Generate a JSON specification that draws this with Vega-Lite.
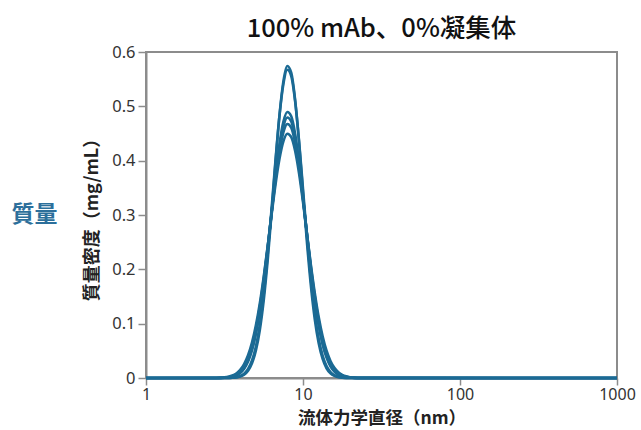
{
  "$schema": "https://vega.github.io/schema/vega-lite/v6.json",
  "width": 471,
  "height": 326,
  "autosize": {"type": "none"},
  "padding": {"left": 146, "top": 52, "right": 24, "bottom": 52},
  "title": {"text": "100% mAb、0%凝集体", "font": "Noto Sans CJK JP", "fontSize": 25.5, "fontWeight": 500, "color": "#111111", "anchor": "middle", "offset": 2},
  "config": {
    "view": {"stroke": "#8c8c8c", "strokeWidth": 2},
    "axis": {"grid": false, "domainColor": "#8c8c8c", "domainWidth": 2, "tickColor": "#8c8c8c", "tickWidth": 1.5, "tickSize": 8, "labelFont": "Noto Sans", "labelFontSize": 16.5, "labelColor": "#333333", "titleFont": "Noto Sans CJK JP", "titleFontSize": 18, "titleFontWeight": "bold", "titleColor": "#222222"}
  },
  "data": {"values": [
    {"d":1,"m":0,"r":"a"},{"d":2.818,"m":0,"r":"a"},{"d":2.985,"m":0,"r":"a"},{"d":3.162,"m":0.00004,"r":"a"},{"d":3.350,"m":0.00014,"r":"a"},{"d":3.548,"m":0.0004,"r":"a"},{"d":3.758,"m":0.0011,"r":"a"},{"d":3.981,"m":0.0027,"r":"a"},{"d":4.217,"m":0.0062,"r":"a"},{"d":4.467,"m":0.0134,"r":"a"},{"d":4.732,"m":0.0270,"r":"a"},{"d":5.012,"m":0.0506,"r":"a"},{"d":5.309,"m":0.0884,"r":"a"},{"d":5.623,"m":0.1434,"r":"a"},{"d":5.957,"m":0.2164,"r":"a"},{"d":6.310,"m":0.3040,"r":"a"},{"d":6.683,"m":0.3972,"r":"a"},{"d":7.079,"m":0.4827,"r":"a"},{"d":7.499,"m":0.5459,"r":"a"},{"d":7.943,"m":0.5742,"r":"a"},{"d":8.414,"m":0.5619,"r":"a"},{"d":8.913,"m":0.5115,"r":"a"},{"d":9.441,"m":0.4332,"r":"a"},{"d":10,"m":0.3413,"r":"a"},{"d":10.593,"m":0.2501,"r":"a"},{"d":11.220,"m":0.1705,"r":"a"},{"d":11.885,"m":0.1082,"r":"a"},{"d":12.589,"m":0.0638,"r":"a"},{"d":13.335,"m":0.0350,"r":"a"},{"d":14.125,"m":0.0179,"r":"a"},{"d":14.962,"m":0.0085,"r":"a"},{"d":15.849,"m":0.0038,"r":"a"},{"d":16.788,"m":0.0015,"r":"a"},{"d":17.783,"m":0.0006,"r":"a"},{"d":18.836,"m":0.0002,"r":"a"},{"d":19.953,"m":0.0001,"r":"a"},{"d":21.135,"m":0,"r":"a"},{"d":22.387,"m":0,"r":"a"},{"d":1000,"m":0,"r":"a"},
    {"d":1,"m":0,"r":"b"},{"d":2.818,"m":0,"r":"b"},{"d":2.985,"m":0,"r":"b"},{"d":3.162,"m":0.0001,"r":"b"},{"d":3.350,"m":0.0002,"r":"b"},{"d":3.548,"m":0.0006,"r":"b"},{"d":3.758,"m":0.0015,"r":"b"},{"d":3.981,"m":0.0037,"r":"b"},{"d":4.217,"m":0.0081,"r":"b"},{"d":4.467,"m":0.0167,"r":"b"},{"d":4.732,"m":0.0322,"r":"b"},{"d":5.012,"m":0.0581,"r":"b"},{"d":5.309,"m":0.0979,"r":"b"},{"d":5.623,"m":0.1543,"r":"b"},{"d":5.957,"m":0.2271,"r":"b"},{"d":6.310,"m":0.3123,"r":"b"},{"d":6.683,"m":0.4014,"r":"b"},{"d":7.079,"m":0.4820,"r":"b"},{"d":7.499,"m":0.5409,"r":"b"},{"d":7.943,"m":0.5672,"r":"b"},{"d":8.414,"m":0.5558,"r":"b"},{"d":8.913,"m":0.5089,"r":"b"},{"d":9.441,"m":0.4354,"r":"b"},{"d":10,"m":0.3481,"r":"b"},{"d":10.593,"m":0.2601,"r":"b"},{"d":11.220,"m":0.1815,"r":"b"},{"d":11.885,"m":0.1184,"r":"b"},{"d":12.589,"m":0.0722,"r":"b"},{"d":13.335,"m":0.0411,"r":"b"},{"d":14.125,"m":0.0219,"r":"b"},{"d":14.962,"m":0.0109,"r":"b"},{"d":15.849,"m":0.0051,"r":"b"},{"d":16.788,"m":0.0022,"r":"b"},{"d":17.783,"m":0.0009,"r":"b"},{"d":18.836,"m":0.0003,"r":"b"},{"d":19.953,"m":0.0001,"r":"b"},{"d":21.135,"m":0,"r":"b"},{"d":22.387,"m":0,"r":"b"},{"d":1000,"m":0,"r":"b"},
    {"d":1,"m":0,"r":"c"},{"d":2.818,"m":0.0001,"r":"c"},{"d":2.985,"m":0.0002,"r":"c"},{"d":3.162,"m":0.0004,"r":"c"},{"d":3.350,"m":0.0010,"r":"c"},{"d":3.548,"m":0.0022,"r":"c"},{"d":3.758,"m":0.0046,"r":"c"},{"d":3.981,"m":0.0091,"r":"c"},{"d":4.217,"m":0.0170,"r":"c"},{"d":4.467,"m":0.0302,"r":"c"},{"d":4.732,"m":0.0507,"r":"c"},{"d":5.012,"m":0.0809,"r":"c"},{"d":5.309,"m":0.1222,"r":"c"},{"d":5.623,"m":0.1750,"r":"c"},{"d":5.957,"m":0.2374,"r":"c"},{"d":6.310,"m":0.3055,"r":"c"},{"d":6.683,"m":0.3724,"r":"c"},{"d":7.079,"m":0.4304,"r":"c"},{"d":7.499,"m":0.4715,"r":"c"},{"d":7.943,"m":0.4895,"r":"c"},{"d":8.414,"m":0.4817,"r":"c"},{"d":8.913,"m":0.4493,"r":"c"},{"d":9.441,"m":0.3972,"r":"c"},{"d":10,"m":0.3328,"r":"c"},{"d":10.593,"m":0.2643,"r":"c"},{"d":11.220,"m":0.1990,"r":"c"},{"d":11.885,"m":0.1420,"r":"c"},{"d":12.589,"m":0.0960,"r":"c"},{"d":13.335,"m":0.0615,"r":"c"},{"d":14.125,"m":0.0374,"r":"c"},{"d":14.962,"m":0.0215,"r":"c"},{"d":15.849,"m":0.0118,"r":"c"},{"d":16.788,"m":0.0061,"r":"c"},{"d":17.783,"m":0.0030,"r":"c"},{"d":18.836,"m":0.0014,"r":"c"},{"d":19.953,"m":0.0006,"r":"c"},{"d":21.135,"m":0.0003,"r":"c"},{"d":22.387,"m":0.0001,"r":"c"},{"d":1000,"m":0,"r":"c"},
    {"d":1,"m":0,"r":"d"},{"d":2.818,"m":0.0001,"r":"d"},{"d":2.985,"m":0.0002,"r":"d"},{"d":3.162,"m":0.0005,"r":"d"},{"d":3.350,"m":0.0012,"r":"d"},{"d":3.548,"m":0.0026,"r":"d"},{"d":3.758,"m":0.0053,"r":"d"},{"d":3.981,"m":0.0103,"r":"d"},{"d":4.217,"m":0.0188,"r":"d"},{"d":4.467,"m":0.0327,"r":"d"},{"d":4.732,"m":0.0539,"r":"d"},{"d":5.012,"m":0.0845,"r":"d"},{"d":5.309,"m":0.1258,"r":"d"},{"d":5.623,"m":0.1779,"r":"d"},{"d":5.957,"m":0.2388,"r":"d"},{"d":6.310,"m":0.3044,"r":"d"},{"d":6.683,"m":0.3685,"r":"d"},{"d":7.079,"m":0.4236,"r":"d"},{"d":7.499,"m":0.4625,"r":"d"},{"d":7.943,"m":0.4795,"r":"d"},{"d":8.414,"m":0.4721,"r":"d"},{"d":8.913,"m":0.4415,"r":"d"},{"d":9.441,"m":0.3920,"r":"d"},{"d":10,"m":0.3306,"r":"d"},{"d":10.593,"m":0.2647,"r":"d"},{"d":11.220,"m":0.2013,"r":"d"},{"d":11.885,"m":0.1454,"r":"d"},{"d":12.589,"m":0.0997,"r":"d"},{"d":13.335,"m":0.0650,"r":"d"},{"d":14.125,"m":0.0402,"r":"d"},{"d":14.962,"m":0.0236,"r":"d"},{"d":15.849,"m":0.0132,"r":"d"},{"d":16.788,"m":0.0070,"r":"d"},{"d":17.783,"m":0.0035,"r":"d"},{"d":18.836,"m":0.0017,"r":"d"},{"d":19.953,"m":0.0008,"r":"d"},{"d":21.135,"m":0.0003,"r":"d"},{"d":22.387,"m":0.0001,"r":"d"},{"d":1000,"m":0,"r":"d"},
    {"d":1,"m":0,"r":"e"},{"d":2.818,"m":0.0001,"r":"e"},{"d":2.985,"m":0.0003,"r":"e"},{"d":3.162,"m":0.0008,"r":"e"},{"d":3.350,"m":0.0016,"r":"e"},{"d":3.548,"m":0.0034,"r":"e"},{"d":3.758,"m":0.0066,"r":"e"},{"d":3.981,"m":0.0123,"r":"e"},{"d":4.217,"m":0.0217,"r":"e"},{"d":4.467,"m":0.0367,"r":"e"},{"d":4.732,"m":0.0590,"r":"e"},{"d":5.012,"m":0.0903,"r":"e"},{"d":5.309,"m":0.1316,"r":"e"},{"d":5.623,"m":0.1827,"r":"e"},{"d":5.957,"m":0.2415,"r":"e"},{"d":6.310,"m":0.3039,"r":"e"},{"d":6.683,"m":0.3643,"r":"e"},{"d":7.079,"m":0.4157,"r":"e"},{"d":7.499,"m":0.4518,"r":"e"},{"d":7.943,"m":0.4675,"r":"e"},{"d":8.414,"m":0.4607,"r":"e"},{"d":8.913,"m":0.4323,"r":"e"},{"d":9.441,"m":0.3863,"r":"e"},{"d":10,"m":0.3287,"r":"e"},{"d":10.593,"m":0.2663,"r":"e"},{"d":11.220,"m":0.2054,"r":"e"},{"d":11.885,"m":0.1509,"r":"e"},{"d":12.589,"m":0.1056,"r":"e"},{"d":13.335,"m":0.0703,"r":"e"},{"d":14.125,"m":0.0446,"r":"e"},{"d":14.962,"m":0.0270,"r":"e"},{"d":15.849,"m":0.0155,"r":"e"},{"d":16.788,"m":0.0085,"r":"e"},{"d":17.783,"m":0.0044,"r":"e"},{"d":18.836,"m":0.0022,"r":"e"},{"d":19.953,"m":0.0010,"r":"e"},{"d":21.135,"m":0.0005,"r":"e"},{"d":22.387,"m":0.0002,"r":"e"},{"d":1000,"m":0,"r":"e"},
    {"d":1,"m":0,"r":"f"},{"d":2.818,"m":0.0002,"r":"f"},{"d":2.985,"m":0.0005,"r":"f"},{"d":3.162,"m":0.0011,"r":"f"},{"d":3.350,"m":0.0023,"r":"f"},{"d":3.548,"m":0.0045,"r":"f"},{"d":3.758,"m":0.0084,"r":"f"},{"d":3.981,"m":0.0151,"r":"f"},{"d":4.217,"m":0.0257,"r":"f"},{"d":4.467,"m":0.0419,"r":"f"},{"d":4.732,"m":0.0652,"r":"f"},{"d":5.012,"m":0.0970,"r":"f"},{"d":5.309,"m":0.1378,"r":"f"},{"d":5.623,"m":0.1871,"r":"f"},{"d":5.957,"m":0.2427,"r":"f"},{"d":6.310,"m":0.3008,"r":"f"},{"d":6.683,"m":0.3562,"r":"f"},{"d":7.079,"m":0.4029,"r":"f"},{"d":7.499,"m":0.4354,"r":"f"},{"d":7.943,"m":0.4496,"r":"f"},{"d":8.414,"m":0.4435,"r":"f"},{"d":8.913,"m":0.4179,"r":"f"},{"d":9.441,"m":0.3763,"r":"f"},{"d":10,"m":0.3236,"r":"f"},{"d":10.593,"m":0.2659,"r":"f"},{"d":11.220,"m":0.2088,"r":"f"},{"d":11.885,"m":0.1566,"r":"f"},{"d":12.589,"m":0.1122,"r":"f"},{"d":13.335,"m":0.0768,"r":"f"},{"d":14.125,"m":0.0502,"r":"f"},{"d":14.962,"m":0.0314,"r":"f"},{"d":15.849,"m":0.0187,"r":"f"},{"d":16.788,"m":0.0107,"r":"f"},{"d":17.783,"m":0.0058,"r":"f"},{"d":18.836,"m":0.0030,"r":"f"},{"d":19.953,"m":0.0015,"r":"f"},{"d":21.135,"m":0.0007,"r":"f"},{"d":22.387,"m":0.0003,"r":"f"},{"d":1000,"m":0,"r":"f"}
  ]},
  "layer": [
    {
      "mark": {"type": "line", "interpolate": "monotone", "strokeWidth": 2.6, "color": "#1b6a94"},
      "encoding": {
        "x": {"field": "d", "type": "quantitative", "scale": {"type": "log", "domain": [1, 1000]},
              "axis": {"values": [1, 10, 100, 1000], "format": "d", "labelFlush": false, "labelPadding": 1, "labelFontSize": 16, "tickSize": 7, "title": "流体力学直径（nm）", "titleFontSize": 17.5, "titlePadding": 7}},
        "y": {"field": "m", "type": "quantitative", "scale": {"domain": [0, 0.6]},
              "axis": {"values": [0, 0.1, 0.2, 0.3, 0.4, 0.5, 0.6], "format": ".1~f", "labelPadding": 3, "title": "質量密度（mg/mL）", "titlePadding": 10}},
        "detail": {"field": "r"}
      }
    },
    {
      "mark": {"type": "line", "opacity": 0},
      "encoding": {
        "x": {"field": "d", "type": "quantitative", "scale": {"type": "log", "domain": [1, 1000]}},
        "y": {"field": "m", "type": "quantitative", "scale": {"domain": [0, 0.6]},
              "axis": {"orient": "left", "title": "質量", "labels": false, "ticks": false, "domain": false, "titleAngle": 0, "titleX": -112, "titleY": 162, "titleAlign": "center", "titleBaseline": "middle", "titleColor": "#2c6f9b", "titleFontSize": 23, "titleFontWeight": "bold", "titleFont": "Noto Sans CJK JP"}},
        "detail": {"field": "r"}
      }
    }
  ],
  "resolve": {"scale": {"y": "independent"}}
}
